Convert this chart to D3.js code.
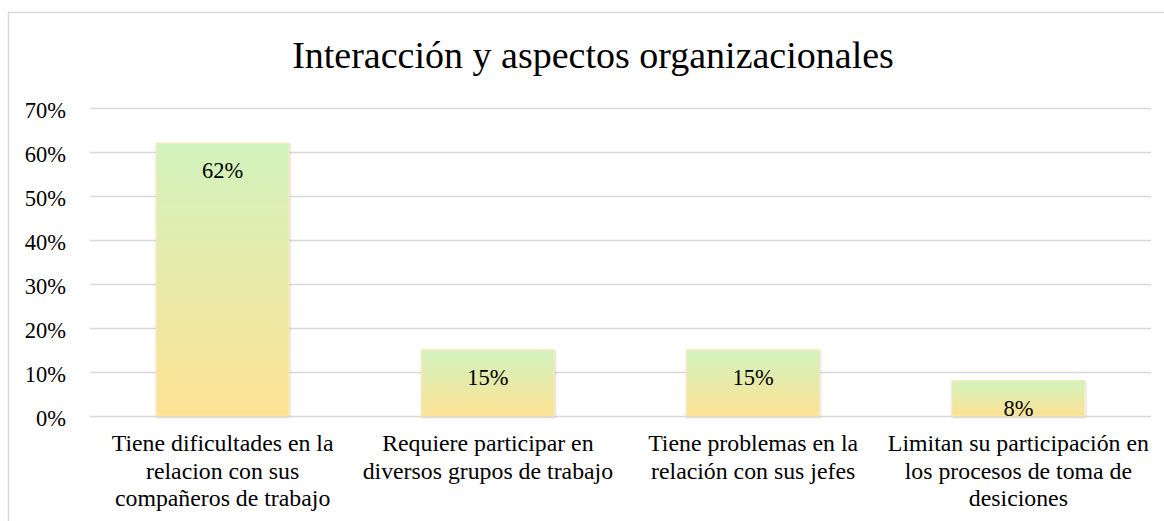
<!DOCTYPE html>
<html>
<head>
<meta charset="utf-8">
<script src="https://cdn.jsdelivr.net/npm/d3@7"></script>
<style>
  body { margin: 0; background: #fff; }
  svg text { font-family: "Liberation Serif", "Times New Roman", serif !important; }
</style>
</head>
<body>
<svg id="chart" width="1164" height="521"></svg>
<script>
(function (d3) {
	"use strict";

	/***** Data *****/
	const chartTitle = "Interacción y aspectos organizacionales";
	const categories = [
		["Tiene dificultades en la", "relacion con sus", "compañeros de trabajo"],
		["Requiere participar en", "diversos grupos de trabajo"],
		["Tiene problemas en la", "relación con sus jefes"],
		["Limitan su participación en", "los procesos de toma de", "desiciones"]
	];
	const values = [0.62, 0.15, 0.15, 0.08];
	const yTicks = [0, 0.1, 0.2, 0.3, 0.4, 0.5, 0.6, 0.7];

	/***** Layout *****/
	const plotLeft = 90, plotRight = 1151;
	const plotTop = 108, plotBottom = 416;

	var svg = d3.select("#chart");

	// chart area frame (runs off the right and bottom of the picture)
	svg.append("rect")
		.attr("x", 8.5).attr("y", 12.5)
		.attr("width", 1200).attr("height", 600)
		.attr("fill", "none")
		.attr("stroke", "#d9d9d9")
		.attr("stroke-width", 1.5);

	// gradient for the bars
	var defs = svg.append("defs");
	var grad = defs.append("linearGradient")
		.attr("id", "barFill")
		.attr("x1", 0).attr("y1", 0).attr("x2", 0).attr("y2", 1);
	grad.append("stop").attr("offset", "0%").attr("stop-color", "#d2f3be");
	grad.append("stop").attr("offset", "100%").attr("stop-color", "#fde293");

	var shadow = defs.append("filter").attr("id", "shadow")
		.attr("x", "-10%").attr("y", "-10%").attr("width", "130%").attr("height", "130%");
	shadow.append("feDropShadow")
		.attr("dx", 0.5).attr("dy", 1).attr("stdDeviation", 1.2)
		.attr("flood-color", "#000").attr("flood-opacity", 0.2);

	// Scales
	var x = d3.scaleBand()
		.domain(d3.range(categories.length))
		.range([plotLeft, plotRight])
		.paddingInner(0.5)
		.paddingOuter(0.25);

	var y = d3.scaleLinear()
		.domain([0, 0.7])
		.range([plotBottom, plotTop]);

	// Title
	svg.append("text")
		.attr("x", 593).attr("y", 68)
		.attr("text-anchor", "middle")
		.attr("font-size", 38)
		.attr("fill", "#000")
		.text(chartTitle);

	// Gridlines
	svg.append("g")
		.selectAll("line")
		.data(yTicks)
		.join("line")
		.attr("x1", plotLeft).attr("x2", plotRight)
		.attr("y1", d => Math.round(y(d)) + 0.5)
		.attr("y2", d => Math.round(y(d)) + 0.5)
		.attr("stroke", "#d9d9d9")
		.attr("stroke-width", 1.5);

	// Y axis
	var yAxis = d3.axisLeft(y)
		.tickValues(yTicks)
		.tickFormat(d3.format(".0%"))
		.tickSize(0)
		.tickPadding(0);
	var yAxisG = svg.append("g")
		.attr("transform", "translate(66,2)")
		.call(yAxis);
	yAxisG.select(".domain").remove();
	yAxisG.selectAll("text")
		.attr("font-size", 22.5)
		.attr("fill", "#000");

	// Bars
	svg.append("g")
		.selectAll("rect")
		.data(values)
		.join("rect")
		.attr("x", (d, i) => x(i))
		.attr("y", d => y(d))
		.attr("width", x.bandwidth())
		.attr("height", d => y(0) - y(d))
		.attr("fill", "url(#barFill)")
		.attr("stroke", "#fbe6b4")
		.attr("stroke-width", 1.2)
		.attr("filter", "url(#shadow)");

	// Value labels (inside end)
	svg.append("g")
		.selectAll("text")
		.data(values)
		.join("text")
		.attr("x", (d, i) => x(i) + x.bandwidth() / 2)
		.attr("y", d => y(d) + 35)
		.attr("text-anchor", "middle")
		.attr("font-size", 22.5)
		.attr("fill", "#000")
		.text(d => d3.format(".0%")(d));

	// Category labels
	var cat = svg.append("g")
		.selectAll("text")
		.data(categories)
		.join("text")
		.attr("text-anchor", "middle")
		.attr("font-size", 23.8)
		.attr("fill", "#000");
	cat.selectAll("tspan")
		.data((d, i) => d.map(t => ({ t: t, i: i })))
		.join("tspan")
		.attr("x", d => x(d.i) + x.bandwidth() / 2)
		.attr("y", (d, j) => 451 + j * 27.5)
		.text(d => d.t);

})(d3);
</script>
</body>
</html>
